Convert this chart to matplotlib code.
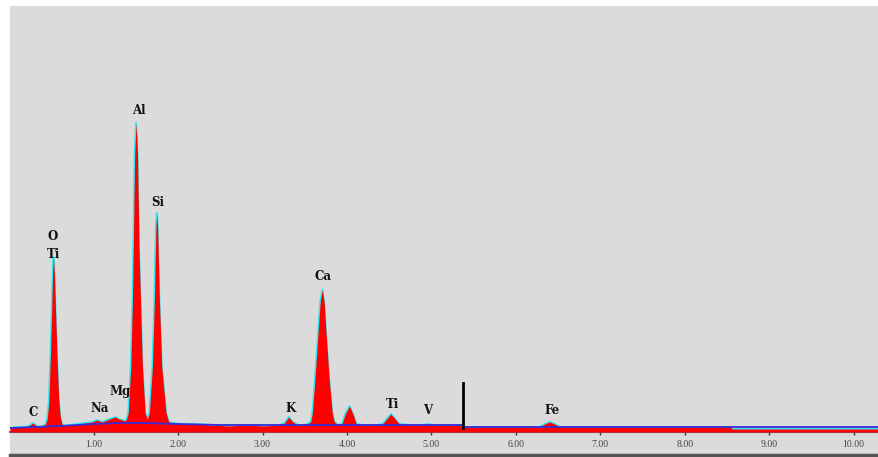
import matplotlib
matplotlib.use("Agg")
import matplotlib.pyplot as plt

# EDS spectrum (energy in keV, counts in arbitrary units)
energy = [0.01, 0.10, 0.20, 0.25, 0.28, 0.31, 0.36, 0.40, 0.43, 0.45, 0.47, 0.49,
          0.505, 0.515, 0.525, 0.535, 0.548, 0.565, 0.585, 0.605, 0.625, 0.66, 0.72,
          0.80, 0.90, 0.98, 1.04, 1.10, 1.16, 1.22, 1.26, 1.30, 1.34, 1.37, 1.39, 1.41,
          1.44, 1.46, 1.47, 1.486, 1.503, 1.52, 1.537, 1.555, 1.578, 1.61, 1.635,
          1.66, 1.696, 1.72, 1.73, 1.738, 1.748, 1.758, 1.766, 1.779, 1.807, 1.858,
          1.89, 1.95, 2.05, 2.2, 2.4, 2.6, 2.8,
          3.0, 3.2, 3.26, 3.31, 3.36, 3.42, 3.50, 3.57, 3.59, 3.62, 3.66, 3.685, 3.708,
          3.73, 3.75, 3.79, 3.826, 3.85, 3.90, 3.94, 3.98, 4.03, 4.08, 4.11, 4.2, 4.35,
          4.42, 4.47, 4.52, 4.57, 4.62, 4.75, 4.88, 4.95, 5.02, 5.20, 5.36, 5.38, 5.6,
          6.0, 6.28, 6.34, 6.40, 6.46, 6.52, 7.0, 7.5, 8.0, 8.54, 8.56, 9.0, 9.5, 10.3]
counts = [4, 5, 5, 7, 9, 7, 5, 6, 8, 13, 30, 80,
          125, 160, 175, 160, 125, 80, 35, 15, 8, 6, 7,
          8, 9, 10, 12, 10, 12, 14, 15, 13, 12, 11, 13, 19,
          65, 132, 185, 278, 309, 278, 185, 132, 65, 19, 13,
          19, 65, 132, 175, 205, 219, 205, 175, 132, 65, 19,
          10, 9, 8, 8, 7, 6, 7,
          6, 7, 9, 15, 10, 7, 7, 10, 19, 52, 102, 132, 142,
          130, 102, 52, 19, 10, 7, 8, 18, 26, 16, 8, 7, 7,
          8, 13, 18, 13, 8, 7, 7, 8, 7, 7, 7, 5, 5,
          5, 5, 8, 10, 8, 5, 5, 5, 5, 5, 3, 3, 3, 3]

# fitted background
bg_energy = [0.01, 0.3, 0.6, 1.0, 1.3, 1.6, 2.0, 2.5, 3.0, 5.36, 5.38, 10.3]
bg_counts = [4, 5, 6, 8, 9, 9, 8, 7, 7, 7, 5, 5]

# element labels
elements = ["C", "O", "Ti", "Na", "Mg", "Al", "Si", "K", "Ca", "Ti", "V", "Fe"]
label_x = [0.28, 0.52, 0.52, 1.07, 1.31, 1.53, 1.76, 3.33, 3.72, 4.54, 4.96, 6.43]
label_y = [20, 195, 177, 23, 40, 322, 230, 24, 156, 27, 21, 21]

marker_e = 5.373
ticks = [1, 2, 3, 4, 5, 6, 7, 8, 9, 10]
tick_labels = ["%.2f" % t for t in ticks]

fig = plt.figure(figsize=(8.79, 4.57), dpi=100)
ax = fig.add_axes([10 / 879, 2 / 457, 869 / 879, 449 / 457])
ax.set_facecolor("#dbdbdb")
ax.set_xlim(0.01, 10.30)
ax.set_ylim(-23, 426)

ax.plot(energy, counts, color="#30e8f0", lw=1.4, zorder=2)
ax.fill_between(energy, 0, counts, color="#ff0000", lw=0, zorder=3)
ax.plot(bg_energy, bg_counts, color="#3a2ad8", lw=1.3, zorder=4)
ax.plot([marker_e, marker_e], [4, 49], color="black", lw=2, zorder=5)

for name, x, y in zip(elements, label_x, label_y):
    ax.text(x, y, name, ha="center", va="center", fontsize=8.5, fontweight="bold",
            family="DejaVu Serif", color="#111111", zorder=6)

for s in ["top", "left", "right"]:
    ax.spines[s].set_visible(False)
ax.spines["bottom"].set_position(("data", 0))
ax.spines["bottom"].set_color("#666666")
ax.spines["bottom"].set_linewidth(1.5)
ax.set_yticks([])
ax.set_xticks(ticks)
ax.set_xticklabels(tick_labels, family="Liberation Serif", fontsize=7, color="#444444")
ax.tick_params(axis="x", direction="inout", length=4, width=1, color="#333333", pad=4)
ax.axhline(-23, color="#555555", lw=2.5, clip_on=False)

fig.savefig("out.png", dpi=100)
